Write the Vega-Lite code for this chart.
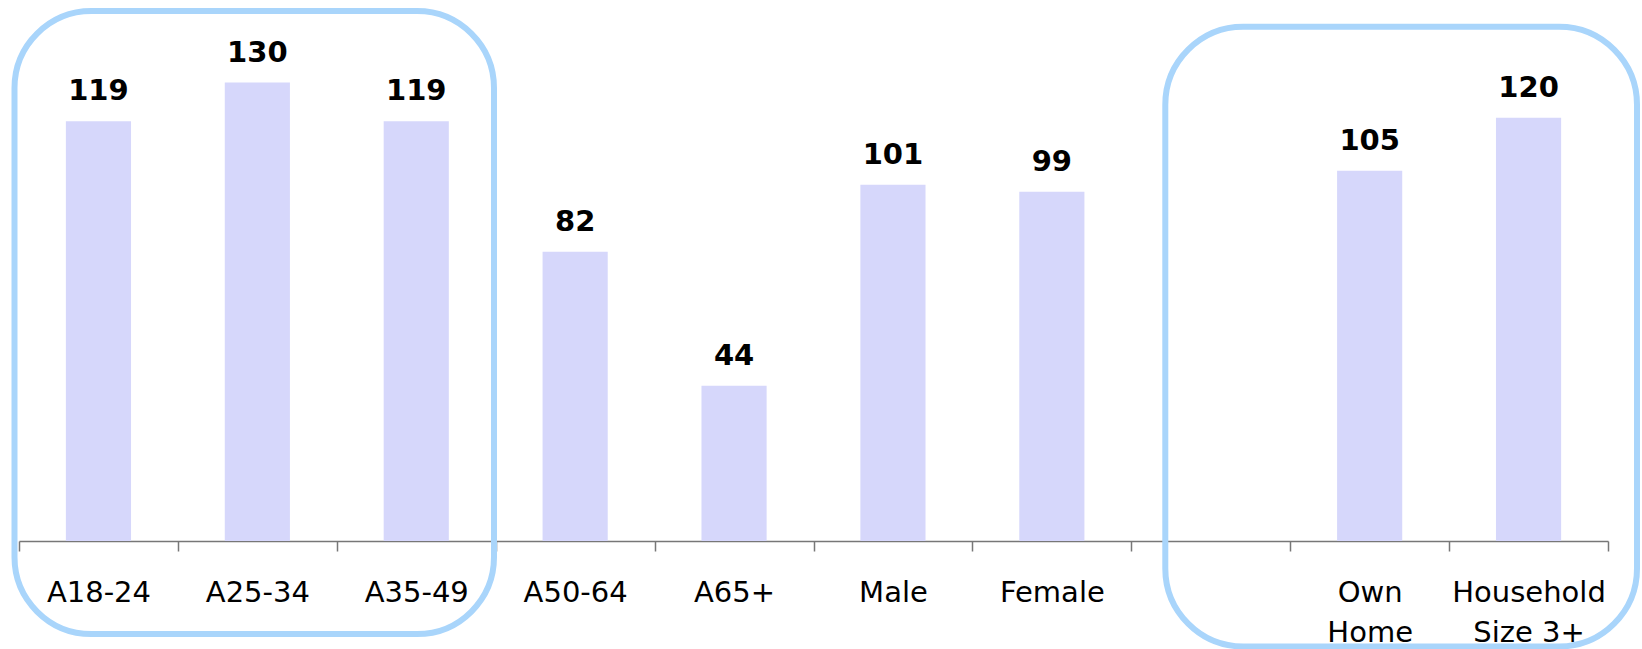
{
  "$schema": "https://vega.github.io/schema/vega-lite/v6.json",
  "width": 1589,
  "height": 529,
  "autosize": {"type": "none"},
  "padding": {"left": 19, "top": 12, "right": 34, "bottom": 108},
  "background": "white",
  "config": {"view": {"stroke": null}, "font": "DejaVu Sans"},
  "resolve": {"scale": {"x": "independent"}},
  "layer": [
    {
      "data": {
        "values": [
          {"category": "A18-24", "value": 119},
          {"category": "A25-34", "value": 130},
          {"category": "A35-49", "value": 119},
          {"category": "A50-64", "value": 82},
          {"category": "A65+", "value": 44},
          {"category": "Male", "value": 101},
          {"category": "Female", "value": 99},
          {"category": "Own Home", "value": 105},
          {"category": "Household Size 3+", "value": 120}
        ]
      },
      "encoding": {
        "x": {
          "field": "category", "type": "nominal", "sort": null,
          "scale": {"domain": ["A18-24", "A25-34", "A35-49", "A50-64", "A65+", "Male", "Female", " ", "Own Home", "Household Size 3+"], "paddingInner": 0, "paddingOuter": 0},
          "axis": {
            "title": null, "labelAngle": 0, "tickBand": "extent", "tickSize": 10,
            "tickColor": "#777777", "domainColor": "#777777", "tickWidth": 1.5, "domainWidth": 1.5,
            "labelFontSize": 29, "labelColor": "black", "labelBaseline": "alphabetic",
            "labelPadding": 50, "labelLineHeight": 40, "labelLimit": 0, "labelFont": "DejaVu Sans",
            "grid": false,
            "labelExpr": "datum.label == 'Own Home' ? ['Own','Home'] : datum.label == 'Household Size 3+' ? ['Household','Size 3+'] : datum.label"
          }
        },
        "y": {"field": "value", "type": "quantitative", "scale": {"domain": [0, 150]}, "axis": null}
      },
      "layer": [
        {"mark": {"type": "bar", "color": "#d6d7fb", "width": {"band": 0.41}}},
        {
          "mark": {"type": "text", "fontWeight": "bold", "fontSize": 29, "baseline": "alphabetic", "dy": -21, "color": "black", "font": "DejaVu Sans"},
          "encoding": {"text": {"field": "value", "type": "quantitative", "format": "d"}}
        }
      ]
    },
    {
      "layer": [
        {
          "data": {"values": [{"start": 0, "end": 3, "top": 150.3, "bottom": -26.4}]},
          "mark": {"type": "rect", "filled": false, "stroke": "#a9d5fb", "strokeWidth": 6, "cornerRadius": 77, "xOffset": -4.5, "x2Offset": -1.7, "clip": false},
          "encoding": {
            "x": {"field": "start", "type": "quantitative", "axis": null, "scale": {"domain": [0, 10], "nice": false, "zero": false}},
            "x2": {"field": "end"},
            "y": {"field": "top", "type": "quantitative", "axis": null, "scale": {"domain": [0, 150]}},
            "y2": {"field": "bottom"}
          }
        },
        {
          "data": {"values": [{"start": 7, "end": 10, "top": 145.8, "bottom": -29.9}]},
          "mark": {"type": "rect", "filled": false, "stroke": "#a9d5fb", "strokeWidth": 6, "cornerRadius": 78, "xOffset": 34, "x2Offset": 29, "clip": false},
          "encoding": {
            "x": {"field": "start", "type": "quantitative", "axis": null, "scale": {"domain": [0, 10], "nice": false, "zero": false}},
            "x2": {"field": "end"},
            "y": {"field": "top", "type": "quantitative", "axis": null, "scale": {"domain": [0, 150]}},
            "y2": {"field": "bottom"}
          }
        }
      ]
    }
  ]
}
